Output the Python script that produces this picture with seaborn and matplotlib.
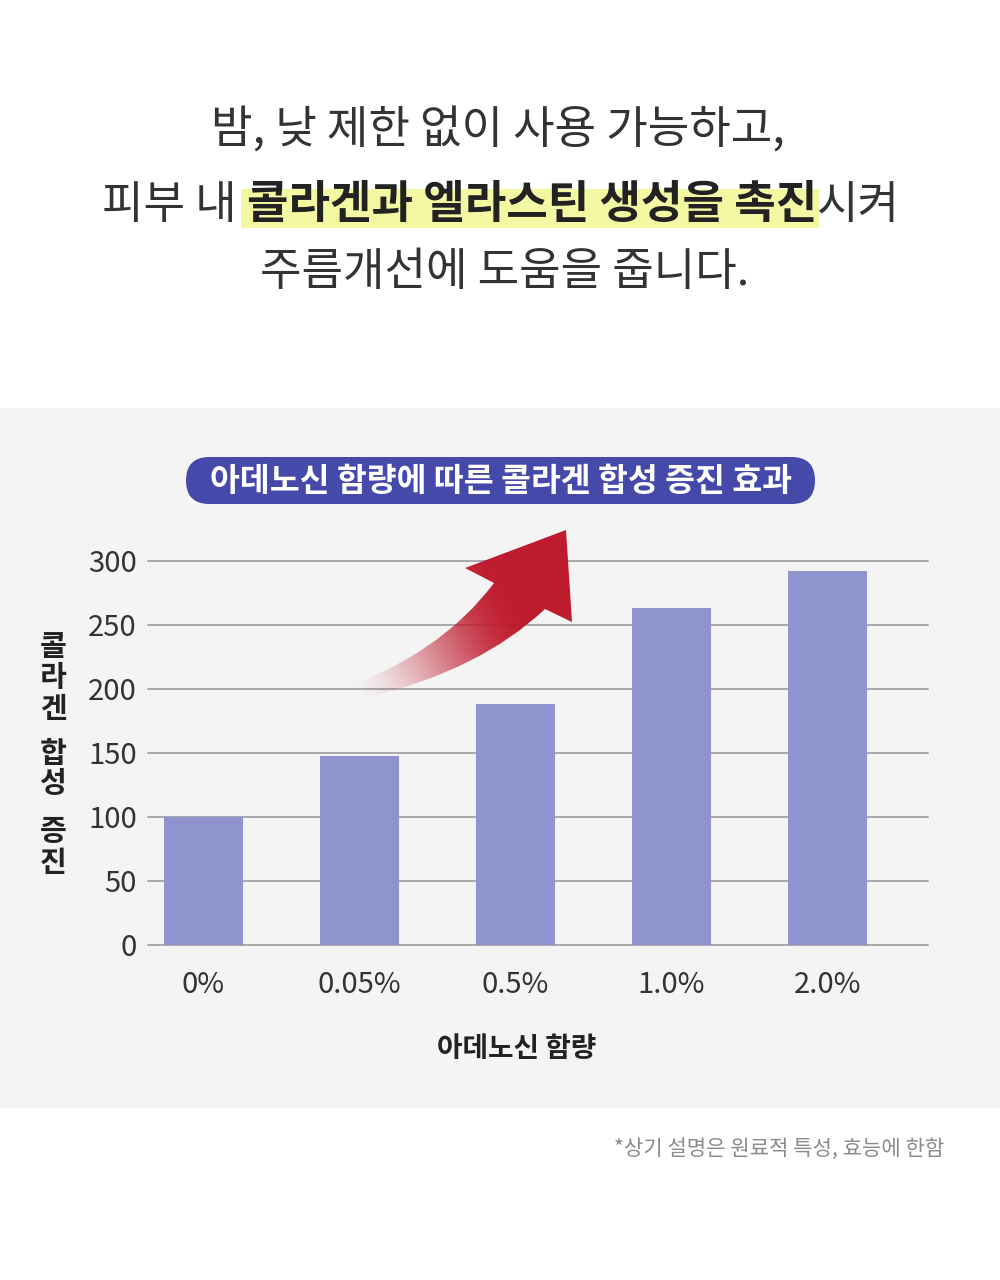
import numpy as np
import pandas as pd
import matplotlib
matplotlib.use("Agg")
import matplotlib.pyplot as plt
import seaborn as sns
from matplotlib.patches import Rectangle, FancyBboxPatch, PathPatch
from matplotlib.path import Path

# ---------------- data ----------------
categories = ["0%", "0.05%", "0.5%", "1.0%", "2.0%"]
values = [100, 148, 188, 263, 292]
yticks = [0, 50, 100, 150, 200, 250, 300]

headline_1 = "밤, 낮 제한 없이 사용 가능하고,"
headline_2a = "피부 내"
headline_2b = "콜라겐과 엘라스틴 생성을 촉진"
headline_2c = "시켜"
headline_3 = "주름개선에 도움을 줍니다."
chart_title = "아데노신 함량에 따른 콜라겐 합성 증진 효과"
x_label = "아데노신 함량"
y_label = "콜라겐 합성 증진"
footnote = "*상기 설명은 원료적 특성, 효능에 한함"

# ---------------- style ----------------
sns.set_theme(style="white")
plt.rcParams["font.family"] = ["Noto Sans CJK KR", "DejaVu Sans"]

W, H = 1000, 1280
fig = plt.figure(figsize=(W / 100, H / 100), dpi=100, facecolor="white")

# grey panel
fig.add_artist(Rectangle((0, (H - 1108) / H), 1, 700 / H, transform=fig.transFigure,
                         facecolor="#f4f4f4", edgecolor="none", zorder=-5))

# ---------------- bar chart ----------------
ax = fig.add_axes([148 / W, (H - 945) / H, 780 / W, 384 / H])
ax.patch.set_alpha(0)
df = pd.DataFrame({"conc": categories, "val": values})
sns.barplot(data=df, x="conc", y="val", color="#8f93ce", saturation=1,
            width=0.506, ax=ax, zorder=3, linewidth=0, edgecolor="none")
ax.set_xlim(-0.356, 4.644)
ax.set_ylim(0, 300)
ax.set_yticks(yticks)
ax.set_axisbelow(True)
ax.yaxis.grid(True, color="#a8a8a8", linewidth=1.4)
ax.xaxis.grid(False)
for gl in ax.get_ygridlines():
    gl.set_clip_on(False)
sns.despine(ax=ax, left=True, bottom=True)
ax.tick_params(axis="both", length=0, labelsize=21, labelcolor="#333333")
ax.tick_params(axis="y", pad=8)
ax.tick_params(axis="x", pad=18)
for lab in ax.get_xticklabels() + ax.get_yticklabels():
    lab.set_fontweight("light")
ax.set_ylabel("")
ax.set_xlabel(x_label, fontsize=20, fontweight="bold", color="#222222")
ax.xaxis.set_label_coords((517 - 148) / 780, -(1049 - 945) / 384)
ax.xaxis.label.set_verticalalignment("center")

# ---------------- overlay (pixel coords) ----------------
ov = fig.add_axes([0, 0, 1, 1], zorder=5)
ov.set_xlim(0, W)
ov.set_ylim(H, 0)
ov.axis("off")
ov.patch.set_alpha(0)

# vertical y label, one character per line
y_chars = [c for c in y_label if c != " "]
y_pos = [647, 677, 709, 754, 783, 831, 863]
for ch, yy in zip(y_chars, y_pos):
    ov.text(53, yy, ch, ha="center", va="center", fontsize=21,
            fontweight="bold", color="#222222")

# headline
tc = "#333333"
FS = 32.5
ov.text(498, 131, headline_1, ha="center", va="center", fontsize=FS,
        color=tc, fontweight="light")
ov.text(505, 272, headline_3, ha="center", va="center", fontsize=FS,
        color=tc, fontweight="light")

renderer = fig.canvas.get_renderer()
t_a = ov.text(0, 205, headline_2a, ha="left", va="center", fontsize=FS, color=tc, fontweight="light")
t_b = ov.text(0, 205, headline_2b, ha="left", va="center", fontsize=FS, color="#222222", fontweight="bold")
t_c = ov.text(0, 205, headline_2c, ha="left", va="center", fontsize=FS, color=tc, fontweight="light")
tmp1 = ov.text(0, 0, "내 내", fontsize=FS, fontweight="light")
tmp2 = ov.text(0, 0, "내내", fontsize=FS, fontweight="light")
sp = tmp1.get_window_extent(renderer).width - tmp2.get_window_extent(renderer).width
tmp1.remove(); tmp2.remove()
wa = t_a.get_window_extent(renderer).width
wb = t_b.get_window_extent(renderer).width
wc = t_c.get_window_extent(renderer).width
total = wa + sp + wb + wc
x0 = 501 - total / 2
t_a.set_x(x0)
t_b.set_x(x0 + wa + sp)
t_c.set_x(x0 + wa + sp + wb)
hx0 = x0 + wa + sp - 6
ov.add_patch(Rectangle((hx0, 189), wb + 8, 39, facecolor="#f5f8a3",
                       edgecolor="none", zorder=0))

# chart title pill
ov.add_patch(FancyBboxPatch((186, 457), 629, 47,
                            boxstyle="round,pad=0,rounding_size=23.5",
                            facecolor="#4549a9", edgecolor="none", zorder=1))
ov.text(500.5, 481, chart_title, ha="center", va="center", fontsize=23.4,
        fontweight="bold", color="white", zorder=2)

# red gradient arrow
verts = [(338, 690), (440, 655), (494, 583), (465, 568), (566, 530),
         (572, 622), (545, 609), (480, 670), (372, 696), (338, 690)]
codes = [Path.MOVETO, Path.CURVE3, Path.CURVE3, Path.LINETO, Path.LINETO,
         Path.LINETO, Path.LINETO, Path.CURVE3, Path.CURVE3, Path.CLOSEPOLY]
arrow_path = Path(verts, codes)
clip = PathPatch(arrow_path, facecolor="none", edgecolor="none", transform=ov.transData)
ov.add_patch(clip)
gx0, gx1, gy0, gy1 = 330, 590, 520, 705
xs = np.linspace(gx0, gx1, 520)
ys = np.linspace(gy0, gy1, 370)
XX, YY = np.meshgrid(xs, ys)
sx, sy = 345, 692
ex, ey = 515, 598
dx, dy = ex - sx, ey - sy
t = ((XX - sx) * dx + (YY - sy) * dy) / (dx * dx + dy * dy)
t = np.clip(t, 0, 1)
alpha = t * t * (3 - 2 * t)
rgba = np.zeros(XX.shape + (4,))
rgba[..., 0] = 192 / 255
rgba[..., 1] = 27 / 255
rgba[..., 2] = 47 / 255
rgba[..., 3] = alpha
im = ov.imshow(rgba, extent=(gx0, gx1, gy1, gy0), origin="upper",
               aspect="auto", zorder=3, interpolation="bilinear")
im.set_clip_path(clip)
ov.set_xlim(0, W)
ov.set_ylim(H, 0)

# footnote
ov.text(944, 1149, footnote, ha="right", va="center", fontsize=15.2,
        color="#8a8a8a", fontweight="light")

fig.savefig("out.png", dpi=100, facecolor="white")
